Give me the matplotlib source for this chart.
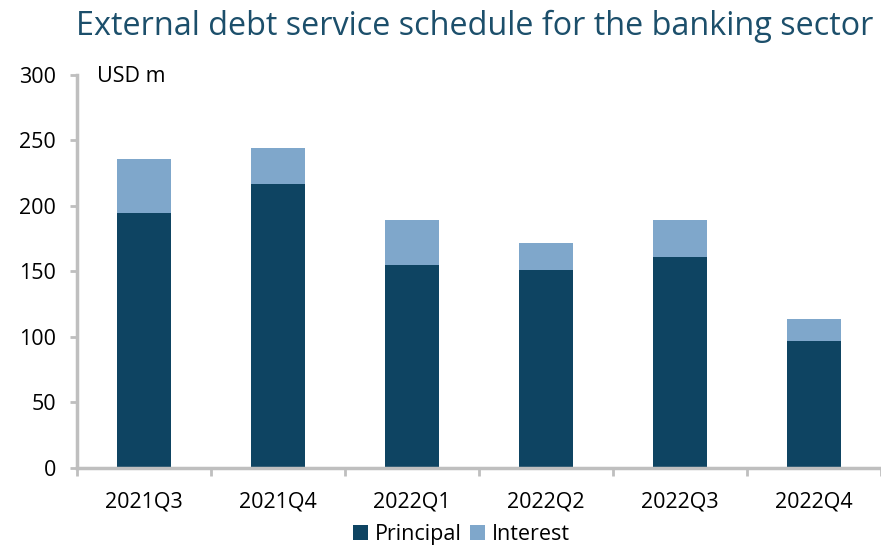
import matplotlib

matplotlib.use("Agg")
import matplotlib.pyplot as plt
import numpy as np

quarters = ["2021Q3", "2021Q4", "2022Q1", "2022Q2", "2022Q3", "2022Q4"]
principal = [195, 217, 155, 151, 161, 97]
interest = [41, 27, 34, 21, 28, 17]

DARK = "#0E4462"
LIGHT = "#7FA7CB"
AXIS = "#BFBFBF"

plt.rcParams["font.family"] = ["Open Sans", "DejaVu Sans"]

fig = plt.figure(figsize=(8.81, 5.45), dpi=100)
ax = fig.add_axes([0.0874, 0.1413, 0.9126, 0.7211])

x = np.arange(len(quarters))
width = 0.41
ax.bar(x, principal, width=width, color=DARK, label="Principal", zorder=2)
ax.bar(x, interest, width=width, bottom=principal, color=LIGHT, label="Interest", zorder=2)

ax.set_ylim(0, 300)
ax.set_xlim(-0.5, len(quarters) - 0.5)
ax.set_yticks(range(0, 301, 50))
ax.tick_params(axis="y", labelsize=15.5, length=5, width=2, color=AXIS, pad=10)

ax.set_xticks(x)
ax.set_xticklabels(quarters)
ax.set_xticks(np.arange(-0.5, len(quarters), 1.0), minor=True)
ax.tick_params(axis="x", which="major", length=0, labelsize=15.5, pad=17)
ax.tick_params(axis="x", which="minor", length=6, width=2, color=AXIS)

for side in ("top", "right"):
    ax.spines[side].set_visible(False)
for side in ("left", "bottom"):
    ax.spines[side].set_color(AXIS)
    ax.spines[side].set_linewidth(2.5)

ax.text(0.025, 0.995, "USD m", transform=ax.transAxes, fontsize=15.5, va="center", ha="left")

fig.text(0.539, 0.952, "External debt service schedule for the banking sector",
         fontsize=23.3, color="#1C4F6B", ha="center", va="center")

fig.legend(loc="lower center", bbox_to_anchor=(0.524, -0.036), ncol=2, frameon=False,
           fontsize=15.5, handlelength=0.7, handleheight=0.7, handletextpad=0.3,
           columnspacing=0.4)

fig.savefig("out.png", dpi=100)
